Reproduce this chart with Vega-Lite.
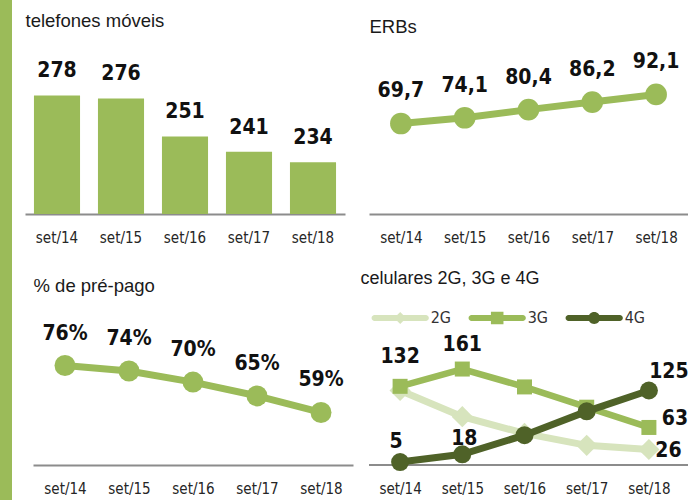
{
  "$schema": "https://vega.github.io/schema/vega-lite/v6.json",
  "padding": 0,
  "background": "white",
  "spacing": 13,
  "resolve": {"scale": {"color": "independent", "shape": "independent"}, "legend": {"color": "independent", "shape": "independent"}},
  "config": {
    "locale": {"number": {"decimal": ",", "thousands": ".", "grouping": [3], "currency": ["R$", ""]}},
    "view": {"stroke": null},
    "axis": {"grid": false},
    "axisX": {"title": null, "ticks": false, "labelAngle": 0, "domainColor": "#8c8c8c", "domainWidth": 2, "labelFont": "DejaVu Sans Condensed, Roboto", "labelFontSize": 15, "labelColor": "#262626", "labelPadding": 28, "labelBaseline": "alphabetic"},
    "axisY": {"labels": false, "ticks": false, "domain": false, "titleAngle": 0, "titleAlign": "left", "titleBaseline": "alphabetic", "titleFont": "Liberation Sans", "titleFontSize": 18.5, "titleFontWeight": "normal", "titleColor": "#1a1a1a"}
  },
  "datasets": {
    "tel": [
      {"p": "set/14", "v": 278}, {"p": "set/15", "v": 276}, {"p": "set/16", "v": 251}, {"p": "set/17", "v": 241}, {"p": "set/18", "v": 234}
    ],
    "erb": [
      {"p": "set/14", "v": 69.7}, {"p": "set/15", "v": 74.1}, {"p": "set/16", "v": 80.4}, {"p": "set/17", "v": 86.2}, {"p": "set/18", "v": 92.1}
    ],
    "pre": [
      {"p": "set/14", "v": 0.76}, {"p": "set/15", "v": 0.74}, {"p": "set/16", "v": 0.70}, {"p": "set/17", "v": 0.65}, {"p": "set/18", "v": 0.59}
    ],
    "cel": [
      {"s": "2G", "p": "set/14", "v": 125}, {"s": "2G", "p": "set/15", "v": 81}, {"s": "2G", "p": "set/16", "v": 53}, {"s": "2G", "p": "set/17", "v": 33}, {"s": "2G", "p": "set/18", "v": 26},
      {"s": "3G", "p": "set/14", "v": 132}, {"s": "3G", "p": "set/15", "v": 161}, {"s": "3G", "p": "set/16", "v": 131}, {"s": "3G", "p": "set/17", "v": 97}, {"s": "3G", "p": "set/18", "v": 63},
      {"s": "4G", "p": "set/14", "v": 5}, {"s": "4G", "p": "set/15", "v": 18}, {"s": "4G", "p": "set/16", "v": 50}, {"s": "4G", "p": "set/17", "v": 90}, {"s": "4G", "p": "set/18", "v": 125}
    ]
  },
  "hconcat": [
    {
      "width": 12, "height": 500,
      "view": {"fill": "#9BBB59", "stroke": null},
      "data": {"values": [{"a": 1}]},
      "mark": {"type": "rect", "color": "#9BBB59"},
      "encoding": {}
    },
    {
      "columns": 2,
      "bounds": "flush",
      "spacing": {"column": 16, "row": 30},
      "resolve": {"scale": {"color": "independent", "shape": "independent"}, "legend": {"color": "independent", "shape": "independent"}},
      "concat": [
        {
          "width": 320, "height": 214,
          "data": {"name": "tel"},
          "encoding": {
            "x": {"field": "p", "type": "ordinal", "scale": {"paddingInner": 0.28, "paddingOuter": 0.14}},
            "y": {"field": "v", "type": "quantitative", "scale": {"domain": [200, 340.8]},
                  "axis": {"title": "telefones móveis", "titleX": 0, "titleY": 26.7}}
          },
          "layer": [
            {"mark": {"type": "bar", "color": "#9BBB59", "clip": true}},
            {"mark": {"type": "text", "baseline": "alphabetic", "dy": -18, "font": "DejaVu Sans Condensed, Roboto", "fontSize": 21, "fontWeight": "bold", "color": "#111111"},
             "encoding": {"text": {"field": "v", "type": "quantitative", "format": "d"}}}
          ]
        },
        {
          "width": 319, "height": 214,
          "data": {"name": "erb"},
          "encoding": {
            "x": {"field": "p", "type": "ordinal", "scale": {"type": "point", "padding": 0.5}},
            "y": {"field": "v", "type": "quantitative", "scale": {"domain": [0, 164.8]},
                  "axis": {"title": "ERBs", "titleX": 0, "titleY": 32}}
          },
          "layer": [
            {"mark": {"type": "line", "color": "#9BBB59", "strokeWidth": 7}},
            {"mark": {"type": "point", "filled": true, "opacity": 1, "color": "#9BBB59", "size": 470}},
            {"mark": {"type": "text", "baseline": "alphabetic", "dy": -26, "font": "DejaVu Sans Condensed, Roboto", "fontSize": 21, "fontWeight": "bold", "color": "#111111"},
             "encoding": {"text": {"field": "v", "type": "quantitative", "format": ".1f"}}}
          ]
        },
        {
          "width": 328, "height": 221,
          "data": {"name": "pre"},
          "encoding": {
            "x": {"field": "p", "type": "ordinal", "scale": {"type": "point", "padding": 0.5, "range": [8, 328]}},
            "y": {"field": "v", "type": "quantitative", "scale": {"domain": [0.40, 1.1996]},
                  "axis": {"title": "% de pré-pago", "titleX": 8, "titleY": 47.5}}
          },
          "layer": [
            {"mark": {"type": "line", "color": "#9BBB59", "strokeWidth": 7}},
            {"mark": {"type": "point", "filled": true, "opacity": 1, "color": "#9BBB59", "size": 441}},
            {"mark": {"type": "text", "baseline": "alphabetic", "dy": -26, "font": "DejaVu Sans Condensed, Roboto", "fontSize": 21, "fontWeight": "bold", "color": "#111111"},
             "encoding": {"text": {"field": "v", "type": "quantitative", "format": ".0%"}}}
          ]
        },
        {
          "width": 319, "height": 221,
          "data": {"name": "cel"},
          "encoding": {
            "x": {"field": "p", "type": "ordinal", "scale": {"type": "point", "padding": 0.5, "range": [0, 311]}, "axis": {"domain": false}},
            "y": {"field": "v", "type": "quantitative", "scale": {"domain": [0, 370.8]},
                  "axis": {"title": "celulares 2G, 3G e 4G", "titleX": -9, "titleY": 39.3, "titleFontSize": 18}}
          },
          "layer": [
            {"mark": {"type": "rule", "color": "#8c8c8c", "strokeWidth": 2}, "encoding": {"y": {"datum": 0}, "x": null}},
            {"transform": [{"filter": "datum.s == '2G'"}], "mark": {"type": "line", "color": "#D7E4BD", "strokeWidth": 7}},
            {"transform": [{"filter": "datum.s == '2G'"}], "mark": {"type": "point", "filled": true, "opacity": 1, "shape": "diamond", "color": "#D7E4BD", "size": 450}},
            {"transform": [{"filter": "datum.s == '3G'"}], "mark": {"type": "line", "color": "#9BBB59", "strokeWidth": 6.5}},
            {"transform": [{"filter": "datum.s == '3G'"}], "mark": {"type": "point", "filled": true, "opacity": 1, "shape": "square", "color": "#9BBB59", "size": 225}},
            {"transform": [{"filter": "datum.s == '4G'"}], "mark": {"type": "line", "color": "#4F6228", "strokeWidth": 7}},
            {"transform": [{"filter": "datum.s == '4G'"}], "mark": {"type": "point", "filled": true, "opacity": 1, "shape": "circle", "color": "#4F6228", "size": 324}},
            {"mark": {"type": "point", "filled": true, "size": 0},
             "encoding": {
               "color": {"field": "s", "type": "nominal", "scale": {"domain": ["2G", "3G", "4G"], "range": ["#D7E4BD", "#9BBB59", "#4F6228"]},
                         "legend": {"title": null, "orient": "none", "legendX": 2.7, "legendY": 45.2, "direction": "horizontal", "symbolSize": 3249, "symbolStrokeWidth": 0, "symbolOpacity": 1, "labelFont": "DejaVu Sans Condensed, Roboto", "labelFontSize": 16, "labelColor": "#333333", "labelOffset": 2, "columnPadding": 16, "padding": 0,
                                    "encode": {"symbols": {"update": {"opacity": {"value": 1}}}}}},
               "shape": {"field": "s", "type": "nominal", "scale": {"domain": ["2G", "3G", "4G"], "range": [
                 "M-0.9,-0.105H0.9A0.105,0.105 0 0,1 0.9,0.105H-0.9A0.105,0.105 0 0,1 -0.9,-0.105Z M0,-0.21L0.21,0L0,0.21L-0.21,0Z",
                 "M-0.9,-0.105H0.9A0.105,0.105 0 0,1 0.9,0.105H-0.9A0.105,0.105 0 0,1 -0.9,-0.105Z M-0.22,-0.22H0.22V0.22H-0.22Z",
                 "M-0.9,-0.105H0.9A0.105,0.105 0 0,1 0.9,0.105H-0.9A0.105,0.105 0 0,1 -0.9,-0.105Z M-0.21,0A0.21,0.21 0 1,1 0.21,0A0.21,0.21 0 1,1 -0.21,0Z"
               ]}}
             }},
            {"transform": [{"filter": "datum.s == '3G' && datum.p == 'set/14'"}], "mark": {"type": "text", "baseline": "alphabetic", "dy": -23.6, "font": "DejaVu Sans Condensed, Roboto", "fontSize": 21, "fontWeight": "bold", "color": "#111111"}, "encoding": {"text": {"field": "v", "type": "quantitative", "format": "d"}}},
            {"transform": [{"filter": "datum.s == '3G' && datum.p == 'set/15'"}], "mark": {"type": "text", "baseline": "alphabetic", "dy": -18.3, "font": "DejaVu Sans Condensed, Roboto", "fontSize": 21, "fontWeight": "bold", "color": "#111111"}, "encoding": {"text": {"field": "v", "type": "quantitative", "format": "d"}}},
            {"transform": [{"filter": "datum.s == '4G' && datum.p == 'set/14'"}], "mark": {"type": "text", "baseline": "alphabetic", "dx": -4, "dy": -13.7, "font": "DejaVu Sans Condensed, Roboto", "fontSize": 21, "fontWeight": "bold", "color": "#111111"}, "encoding": {"text": {"field": "v", "type": "quantitative", "format": "d"}}},
            {"transform": [{"filter": "datum.s == '4G' && datum.p == 'set/15'"}], "mark": {"type": "text", "baseline": "alphabetic", "dx": 2, "dy": -9.3, "font": "DejaVu Sans Condensed, Roboto", "fontSize": 21, "fontWeight": "bold", "color": "#111111"}, "encoding": {"text": {"field": "v", "type": "quantitative", "format": "d"}}},
            {"transform": [{"filter": "datum.s == '4G' && datum.p == 'set/18'"}], "mark": {"type": "text", "baseline": "alphabetic", "dx": 20, "dy": -12.2, "font": "DejaVu Sans Condensed, Roboto", "fontSize": 21, "fontWeight": "bold", "color": "#111111"}, "encoding": {"text": {"field": "v", "type": "quantitative", "format": "d"}}},
            {"transform": [{"filter": "datum.s == '3G' && datum.p == 'set/18'"}], "mark": {"type": "text", "baseline": "alphabetic", "dx": 26, "dy": -2.5, "font": "DejaVu Sans Condensed, Roboto", "fontSize": 21, "fontWeight": "bold", "color": "#111111"}, "encoding": {"text": {"field": "v", "type": "quantitative", "format": "d"}}},
            {"transform": [{"filter": "datum.s == '2G' && datum.p == 'set/18'"}], "mark": {"type": "text", "baseline": "alphabetic", "dx": 19.5, "dy": 7.2, "font": "DejaVu Sans Condensed, Roboto", "fontSize": 21, "fontWeight": "bold", "color": "#111111"}, "encoding": {"text": {"field": "v", "type": "quantitative", "format": "d"}}}
          ]
        }
      ]
    }
  ]
}
